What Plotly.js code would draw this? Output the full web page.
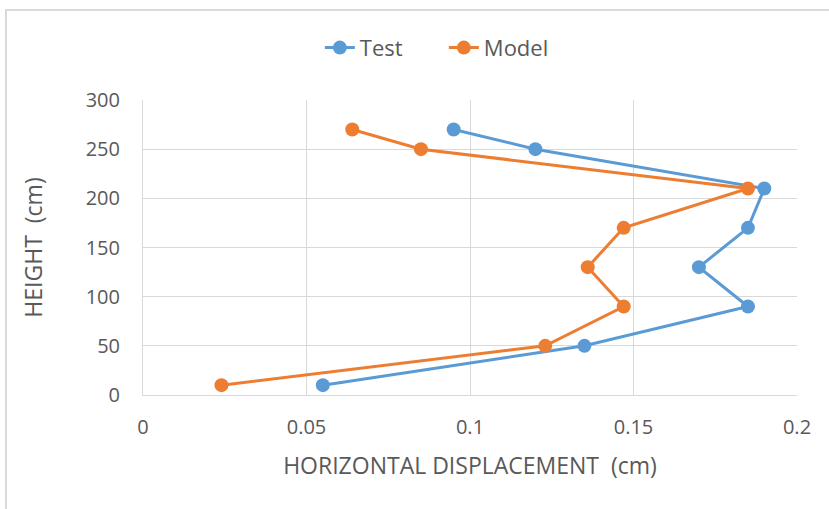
<!DOCTYPE html>
<html><head><meta charset="utf-8">
<script src="https://cdn.plot.ly/plotly-3.0.1.min.js"></script>
<style>
html,body{margin:0;padding:0;background:#fff;width:829px;height:509px;overflow:hidden;}
#frame{position:absolute;left:5px;top:9px;width:840px;height:520px;border:2px solid #d9d9d9;box-sizing:border-box;}
#chart{position:absolute;left:0;top:0;width:829px;height:509px;}
</style></head>
<body>
<div id="frame"></div>
<div id="chart"></div>
<script>
const heights = [10, 50, 90, 130, 170, 210, 250, 270];
const testDisp = [0.055, 0.135, 0.185, 0.170, 0.185, 0.190, 0.120, 0.095];
const modelDisp = [0.024, 0.123, 0.147, 0.136, 0.147, 0.185, 0.085, 0.064];
const xTicks = [0, 0.05, 0.1, 0.15, 0.2];
const xTickLabels = ['0', '0.05', '0.1', '0.15', '0.2'];
const yTicks = [0, 50, 100, 150, 200, 250, 300];

const font = "Open Sans, Roboto, sans-serif";
const traces = [
  {x: testDisp, y: heights, name: 'Test', mode: 'lines+markers',
   line: {color: '#5b9bd5', width: 3}, marker: {color: '#5b9bd5', size: 14}},
  {x: modelDisp, y: heights, name: 'Model', mode: 'lines+markers',
   line: {color: '#ed7d31', width: 3}, marker: {color: '#ed7d31', size: 14}}
];
const layout = {
  width: 829, height: 509,
  paper_bgcolor: 'rgba(0,0,0,0)', plot_bgcolor: 'rgba(0,0,0,0)',
  margin: {l: 143, r: 32, t: 100, b: 114, autoexpand: false},
  font: {family: font, size: 20, color: '#595959'},
  showlegend: true,
  legend: {orientation: 'h', x: 0.46, xanchor: 'center', y: 1.177, yanchor: 'middle',
           entrywidth: 79, entrywidthmode: 'pixels',
           font: {family: font, size: 22, color: '#595959'}},
  xaxis: {range: [0, 0.2], tickvals: xTicks, ticktext: xTickLabels,
          showgrid: true, gridcolor: '#d9d9d9', gridwidth: 1,
          showline: true, linecolor: '#d9d9d9', zeroline: false, ticks: '',
          ticklabelstandoff: 14,
          title: {text: 'HORIZONTAL DISPLACEMENT  (cm)', font: {family: font, size: 23, color: '#595959'}, standoff: 18}},
  yaxis: {range: [0, 300], tickvals: yTicks,
          showgrid: true, gridcolor: '#d9d9d9', gridwidth: 1,
          showline: true, linecolor: '#d9d9d9', zeroline: false, ticks: '',
          ticklabelstandoff: 18,
          title: {text: 'HEIGHT  (cm)', font: {family: font, size: 23, color: '#595959'}, standoff: 36}}
};
Plotly.newPlot('chart', traces, layout, {displayModeBar: false, staticPlot: true});
</script>
</body></html>
